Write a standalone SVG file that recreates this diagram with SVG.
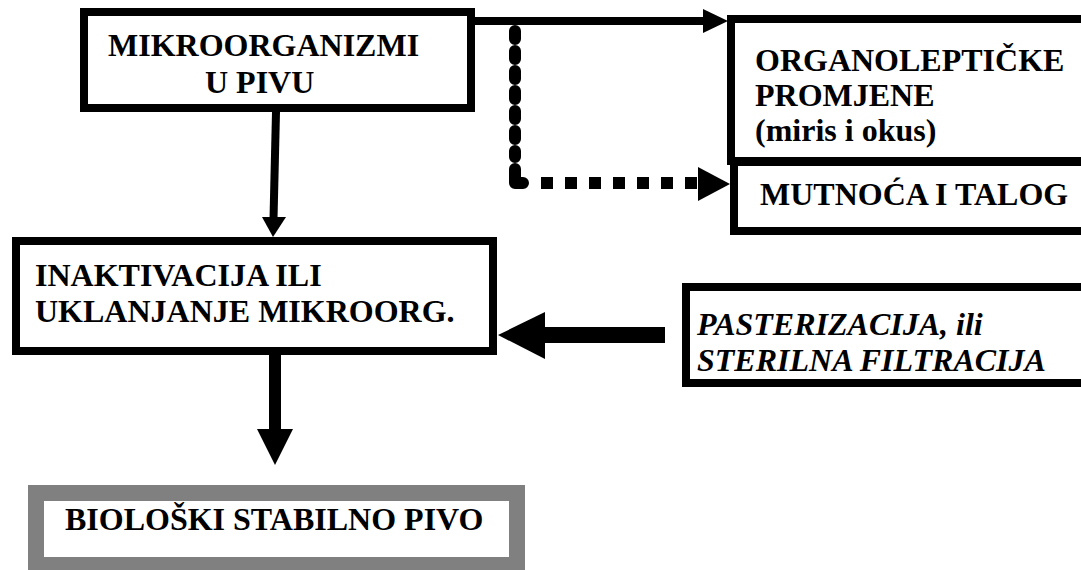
<svg xmlns="http://www.w3.org/2000/svg" width="1081" height="570" viewBox="0 0 1081 570">
  <style>
    .box { fill: #fff; stroke: #000; stroke-width: 8; }
    .final { fill: #fff; stroke: #808080; stroke-width: 16; }
    .lbl { font-family: "Liberation Serif", "Times New Roman", serif; font-weight: bold; font-size: 32px; fill: #000; }
    .it { font-style: italic; }
    .shaft { stroke: #000; fill: none; }
    .head { fill: #000; stroke: none; }
  </style>
  <rect width="1081" height="570" fill="#fff"/>

  <g id="n-mikroorganizmi">
    <rect class="box" x="84" y="12" width="387" height="96"/>
    <text class="lbl" x="108" y="56">MIKROORGANIZMI</text>
    <text class="lbl" x="205" y="93">U PIVU</text>
  </g>

  <g id="n-organolepticke">
    <rect class="box" x="731" y="19" width="400" height="142"/>
    <text class="lbl" x="755" y="71">ORGANOLEPTIČKE</text>
    <text class="lbl" x="755" y="106">PROMJENE</text>
    <text class="lbl" x="755" y="141">(miris i okus)</text>
  </g>

  <g id="n-mutnoca">
    <rect class="box" x="734" y="162" width="400" height="69"/>
    <text class="lbl" x="760" y="205">MUTNOĆA I TALOG</text>
  </g>

  <g id="n-inaktivacija">
    <rect class="box" x="16" y="241" width="477" height="110"/>
    <text class="lbl" x="35" y="286">INAKTIVACIJA ILI</text>
    <text class="lbl" x="35" y="322">UKLANJANJE MIKROORG.</text>
  </g>

  <g id="n-pasterizacija">
    <rect class="box" x="686" y="287" width="400" height="96"/>
    <text class="lbl it" x="697" y="335">PASTERIZACIJA, ili</text>
    <text class="lbl it" x="697" y="371">STERILNA FILTRACIJA</text>
  </g>

  <g id="n-stabilno">
    <rect class="final" x="36" y="493" width="481" height="72"/>
    <text class="lbl" x="65" y="530">BIOLOŠKI STABILNO PIVO</text>
  </g>

  <g id="connectors">
    <!-- mikroorganizmi -> inaktivacija -->
    <line class="shaft" x1="276" y1="112" x2="273.5" y2="219" stroke-width="8"/>
    <polygon class="head" points="262,217 286,217 273,237"/>

    <!-- mikroorganizmi -> organolepticke -->
    <line class="shaft" x1="475" y1="21" x2="705" y2="21" stroke-width="8"/>
    <polygon class="head" points="703,9 703,33 728,21"/>

    <!-- dashed branch -> mutnoca -->
    <line class="shaft" x1="515" y1="31" x2="515" y2="157" stroke-width="12" stroke-linecap="round" stroke-dasharray="8 12"/>
    <path class="shaft" d="M515,169 V183 H523" stroke-width="12" stroke-linecap="round" stroke-linejoin="round"/>
    <line class="shaft" x1="541" y1="183" x2="698" y2="183" stroke-width="12" stroke-dasharray="12 12"/>
    <polygon class="head" points="698,167 698,201 730,184"/>

    <!-- pasterizacija -> inaktivacija -->
    <line class="shaft" x1="665" y1="335" x2="543" y2="335" stroke-width="16"/>
    <polygon class="head" points="545,312 545,359 498,335"/>

    <!-- inaktivacija -> stabilno pivo -->
    <line class="shaft" x1="275" y1="355" x2="275" y2="431" stroke-width="12"/>
    <polygon class="head" points="257,429 293,429 275,465"/>
  </g>
</svg>
